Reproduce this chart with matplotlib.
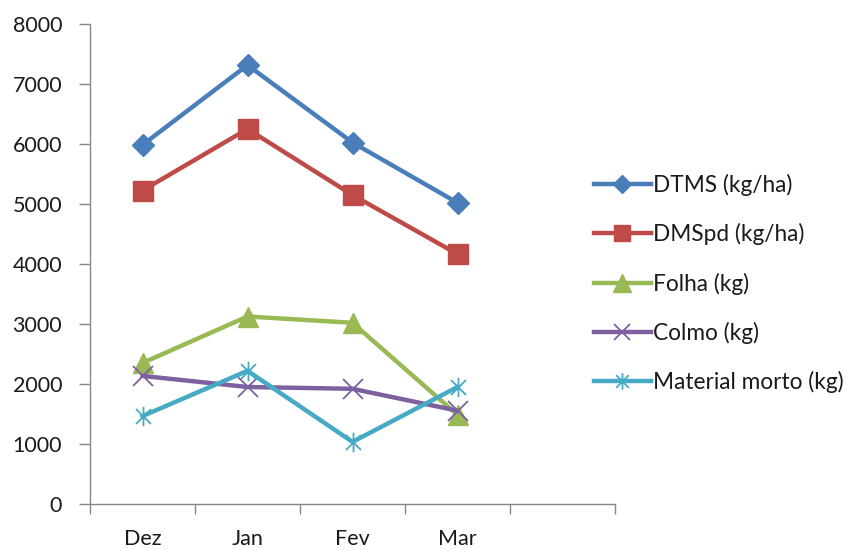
import numpy as np
import matplotlib
matplotlib.use("Agg")
import matplotlib.pyplot as plt
from matplotlib.path import Path

plt.rcParams['font.family'] = ['Lato', 'DejaVu Sans']

# data
months = ['Dez', 'Jan', 'Fev', 'Mar']
dtms = [5985, 7315, 6025, 5020]
dmspd = [5225, 6250, 5150, 4165]
folha = [2350, 3125, 3020, 1485]
colmo = [2135, 1950, 1920, 1555]
morto = [1465, 2220, 1035, 1950]

labels = ['DTMS (kg/ha)', 'DMSpd (kg/ha)', 'Folha (kg)', 'Colmo (kg)', 'Material morto (kg)']
colors = ['#4A7EBB', '#BE4B48', '#98B954', '#7D60A0', '#46AAC5']

# excel style star: an x with a vertical bar
star = Path([(-1, -1), (1, 1), (-1, 1), (1, -1), (0, -1.3), (0, 1.3)],
            [Path.MOVETO, Path.LINETO, Path.MOVETO, Path.LINETO, Path.MOVETO, Path.LINETO])

fig = plt.figure(figsize=(8.67, 5.5), dpi=100)
ax = fig.add_axes([90 / 867, 1 - 504 / 550, 525 / 867, 480 / 550])

x = np.arange(len(months))
series = [dtms, dmspd, folha, colmo, morto]
styles = [dict(marker='D', ms=11),
          dict(marker='s', ms=14),
          dict(marker='^', ms=15),
          dict(marker='x', ms=14, mew=1.3),
          dict(marker=star, ms=14, mew=1.3)]

for vals, lab, col, st in zip(series, labels, colors, styles):
    ax.plot(x, vals, color=col, lw=3.2, label=lab, mfc=col, mec=col,
            solid_joinstyle='round', **st)

ax.set_xlim(-0.5, 4.5)
ax.set_ylim(0, 8000)
ax.set_yticks(np.arange(0, 8001, 1000))
ax.set_xticks(x)
ax.set_xticklabels(months)
ax.set_xticks(np.arange(-0.5, 5, 1), minor=True)

for s in ['top', 'right']:
    ax.spines[s].set_visible(False)
for s in ['left', 'bottom']:
    ax.spines[s].set_color('#868686')
    ax.spines[s].set_linewidth(1)

ax.tick_params(axis='y', direction='out', length=8, width=1, color='#868686',
               labelsize=15.5, pad=12, labelcolor='#1a1a1a')
ax.tick_params(axis='x', which='major', length=0, labelsize=15.5, pad=18,
               labelcolor='#1a1a1a')
ax.tick_params(axis='x', which='minor', direction='out', length=7, width=1,
               color='#868686')

leg = fig.legend(loc='center left', bbox_to_anchor=(0.672, 0.4845), frameon=False,
                 fontsize=16.3, borderpad=0, handlelength=2.5, handletextpad=0.1,
                 labelspacing=1.2, markerscale=0.85)
for t in leg.get_texts():
    t.set_color('#1a1a1a')

fig.savefig('out.png', dpi=100)
